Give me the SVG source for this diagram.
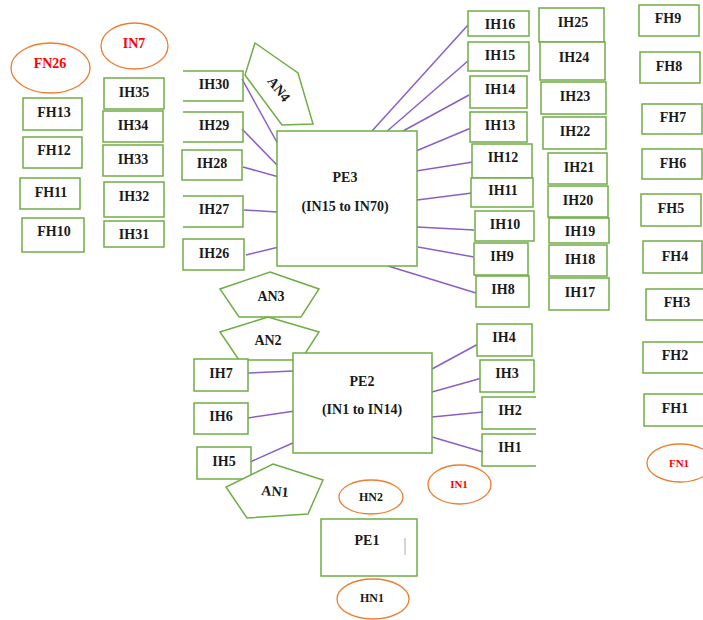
<svg xmlns="http://www.w3.org/2000/svg" width="703" height="620" viewBox="0 0 703 620">
<style>
.b{fill:#fff;stroke:#70AD47;stroke-width:1.5}
.o{fill:none;stroke:#70AD47;stroke-width:1.5}
.e{fill:#fff;stroke:#ED7D31;stroke-width:1.3}
.t{font-family:"Liberation Serif","Times New Roman",serif;font-weight:bold;font-size:14px;fill:#1a1a1a;text-anchor:middle}
.r{fill:#FF0000}
.s{font-size:12px}
.xs{font-size:11px}
#connectors line{stroke:#8B5FC6;stroke-width:1.5}
</style>
<rect width="703" height="620" fill="#fff"/>
<g id="connectors">
<line x1="242" y1="79" x2="279" y2="146"/>
<line x1="242" y1="129" x2="277" y2="165"/>
<line x1="243" y1="167" x2="279" y2="177"/>
<line x1="244" y1="210" x2="277" y2="212"/>
<line x1="246" y1="255" x2="279" y2="247"/>
<line x1="372" y1="131" x2="468" y2="25"/>
<line x1="385" y1="133" x2="469" y2="60"/>
<line x1="403" y1="131" x2="469" y2="95"/>
<line x1="416" y1="151" x2="471" y2="128"/>
<line x1="416" y1="171" x2="473" y2="162"/>
<line x1="417" y1="200" x2="472" y2="193"/>
<line x1="417" y1="227" x2="474" y2="230"/>
<line x1="418" y1="247" x2="474" y2="257"/>
<line x1="388" y1="266" x2="476" y2="293"/>
<line x1="248" y1="373" x2="293" y2="371"/>
<line x1="248" y1="418" x2="295" y2="411"/>
<line x1="250" y1="462" x2="295" y2="442"/>
<line x1="432" y1="369" x2="480" y2="343"/>
<line x1="432" y1="392" x2="482" y2="378"/>
<line x1="432" y1="417" x2="483" y2="412"/>
<line x1="432" y1="437" x2="483" y2="452"/>
</g>
<g id="FN26"><ellipse class="e" cx="50.5" cy="68" rx="39.5" ry="25"/><text class="t r" x="50" y="68">FN26</text></g>
<g id="IN7"><ellipse class="e" cx="134.5" cy="46" rx="33.5" ry="23"/><text class="t r" x="134" y="48">IN7</text></g>
<g id="FH13"><rect class="b" x="23" y="98" width="59" height="32"/><text class="t" x="54" y="117">FH13</text></g>
<g id="FH12"><rect class="b" x="23" y="137" width="59" height="31"/><text class="t" x="54" y="155">FH12</text></g>
<g id="FH11"><rect class="b" x="20" y="178" width="60" height="31"/><text class="t" x="51" y="197">FH11</text></g>
<g id="FH10"><rect class="b" x="22" y="218" width="62" height="34"/><text class="t" x="54" y="236">FH10</text></g>
<g id="IH35"><rect class="b" x="104" y="78" width="60" height="31"/><text class="t" x="134" y="97">IH35</text></g>
<g id="IH34"><rect class="b" x="103" y="111" width="60" height="31"/><text class="t" x="133" y="130">IH34</text></g>
<g id="IH33"><rect class="b" x="103" y="145" width="60" height="31"/><text class="t" x="133" y="164">IH33</text></g>
<g id="IH32"><rect class="b" x="104" y="182" width="60" height="35"/><text class="t" x="134" y="201">IH32</text></g>
<g id="IH31"><rect class="b" x="104" y="221" width="60" height="26"/><text class="t" x="134" y="239">IH31</text></g>
<g id="IH30"><path class="o" d="M183 71H243V101H183"/><text class="t" x="214" y="89">IH30</text></g>
<g id="IH29"><path class="o" d="M183 112H243V142H183"/><text class="t" x="214" y="130">IH29</text></g>
<g id="IH28"><rect class="b" x="182" y="150" width="60" height="30"/><text class="t" x="212" y="168">IH28</text></g>
<g id="IH27"><path class="o" d="M183 196H243V227H183"/><text class="t" x="214" y="214">IH27</text></g>
<g id="IH26"><rect class="b" x="183" y="239" width="61" height="31"/><text class="t" x="214" y="258">IH26</text></g>
<g id="AN4"><polygon class="b" points="255,43 298,73 313,124 282,125 245,75"/><text class="t" transform="translate(279,89) rotate(52)" x="0" y="5">AN4</text></g>
<g id="PE3"><rect class="b" x="277" y="131" width="140" height="135"/><text class="t" x="345" y="182">PE3</text><text class="t" x="345" y="211">(IN15 to IN70)</text></g>
<g id="IH16"><rect class="b" x="468" y="11" width="61" height="25"/><text class="t" x="500" y="29">IH16</text></g>
<g id="IH15"><rect class="b" x="468" y="42" width="61" height="29"/><text class="t" x="500" y="60">IH15</text></g>
<g id="IH14"><rect class="b" x="470" y="76" width="57" height="32"/><text class="t" x="500" y="94">IH14</text></g>
<g id="IH13"><rect class="b" x="470" y="112" width="57" height="30"/><text class="t" x="500" y="130">IH13</text></g>
<g id="IH12"><rect class="b" x="472" y="144" width="60" height="34"/><text class="t" x="503" y="162">IH12</text></g>
<g id="IH11"><rect class="b" x="471" y="178" width="62" height="29"/><text class="t" x="503" y="195">IH11</text></g>
<g id="IH10"><rect class="b" x="475" y="211" width="59" height="30"/><text class="t" x="505" y="229">IH10</text></g>
<g id="IH9"><rect class="b" x="474" y="243" width="54" height="32"/><text class="t" x="502" y="261">IH9</text></g>
<g id="IH8"><rect class="b" x="476" y="276" width="53" height="31"/><text class="t" x="503" y="294">IH8</text></g>
<g id="IH25"><rect class="b" x="539" y="8" width="65" height="34"/><text class="t" x="573" y="27">IH25</text></g>
<g id="IH24"><rect class="b" x="540" y="42" width="65" height="38"/><text class="t" x="574" y="62">IH24</text></g>
<g id="IH23"><rect class="b" x="541" y="82" width="65" height="32"/><text class="t" x="575" y="101">IH23</text></g>
<g id="IH22"><rect class="b" x="543" y="117" width="63" height="32"/><text class="t" x="575" y="136">IH22</text></g>
<g id="IH21"><rect class="b" x="548" y="153" width="59" height="31"/><text class="t" x="579" y="172">IH21</text></g>
<g id="IH20"><rect class="b" x="548" y="186" width="60" height="31"/><text class="t" x="578" y="205">IH20</text></g>
<g id="IH19"><rect class="b" x="549" y="218" width="60" height="25"/><text class="t" x="580" y="236">IH19</text></g>
<g id="IH18"><rect class="b" x="549" y="245" width="58" height="31"/><text class="t" x="580" y="264">IH18</text></g>
<g id="IH17"><rect class="b" x="549" y="278" width="60" height="32"/><text class="t" x="580" y="297">IH17</text></g>
<g id="FH9"><rect class="b" x="639" y="5" width="60" height="31"/><text class="t" x="668" y="23">FH9</text></g>
<g id="FH8"><rect class="b" x="640" y="52" width="60" height="31"/><text class="t" x="669" y="71">FH8</text></g>
<g id="FH7"><rect class="b" x="642" y="104" width="60" height="30"/><text class="t" x="673" y="122">FH7</text></g>
<g id="FH6"><rect class="b" x="642" y="149" width="60" height="30"/><text class="t" x="673" y="168">FH6</text></g>
<g id="FH5"><rect class="b" x="641" y="194" width="60" height="32"/><text class="t" x="671" y="213">FH5</text></g>
<g id="FH4"><rect class="b" x="643" y="241" width="59" height="32"/><text class="t" x="675" y="261">FH4</text></g>
<g id="FH3"><rect class="b" x="646" y="289" width="62" height="31"/><text class="t" x="677" y="307">FH3</text></g>
<g id="FH2"><rect class="b" x="643" y="342" width="65" height="31"/><text class="t" x="675" y="360">FH2</text></g>
<g id="FH1"><rect class="b" x="644" y="394" width="64" height="32"/><text class="t" x="675" y="413">FH1</text></g>
<g id="FN1"><ellipse class="e" cx="680" cy="463" rx="33" ry="19"/><text class="t r xs" x="679" y="467">FN1</text></g>
<g id="AN3"><polygon class="b" points="270,272 319,289 301,317 239,317 220,289"/><text class="t" x="271" y="301">AN3</text></g>
<g id="AN2"><polygon class="b" points="268,317 319,332 301,360 239,360 220,332"/><text class="t" x="268" y="345">AN2</text></g>
<g id="PE2"><rect class="b" x="293" y="353" width="139" height="100"/><text class="t" x="362" y="386">PE2</text><text class="t" x="362" y="414">(IN1 to IN14)</text></g>
<g id="IH7"><rect class="b" x="194" y="359" width="54" height="32"/><text class="t" x="221" y="378">IH7</text></g>
<g id="IH6"><rect class="b" x="194" y="403" width="54" height="31"/><text class="t" x="221" y="421">IH6</text></g>
<g id="IH5"><rect class="b" x="197" y="447" width="54" height="32"/><text class="t" x="224" y="466">IH5</text></g>
<g id="IH4"><rect class="b" x="477" y="324" width="55" height="32"/><text class="t" x="504" y="342">IH4</text></g>
<g id="IH3"><rect class="b" x="480" y="360" width="54" height="32"/><text class="t" x="507" y="378">IH3</text></g>
<g id="IH2"><path class="o" d="M536 397H482V429H536"/><text class="t" x="510" y="415">IH2</text></g>
<g id="IH1"><path class="o" d="M536 434H482V466H536"/><text class="t" x="510" y="452">IH1</text></g>
<g id="AN1"><polygon class="b" points="273,464 323,480 308,514 247,518 226,487"/><text class="t" transform="translate(275,491) rotate(4)" x="0" y="5">AN1</text></g>
<g id="IN1"><ellipse class="e" cx="459.5" cy="484.5" rx="31.5" ry="19.5"/><text class="t r xs" x="459" y="488">IN1</text></g>
<g id="HN2"><ellipse class="e" cx="371" cy="497" rx="32" ry="17"/><text class="t s" x="371" y="501">HN2</text></g>
<g id="PE1"><rect class="b" x="321" y="519" width="96" height="57"/><text class="t" x="367" y="545">PE1</text><line x1="405" y1="538" x2="405" y2="555" stroke="#aaa" stroke-width="1"/></g>
<g id="HN1"><ellipse class="e" cx="373" cy="599" rx="36" ry="20"/><text class="t s" x="372" y="602">HN1</text></g>
</svg>
